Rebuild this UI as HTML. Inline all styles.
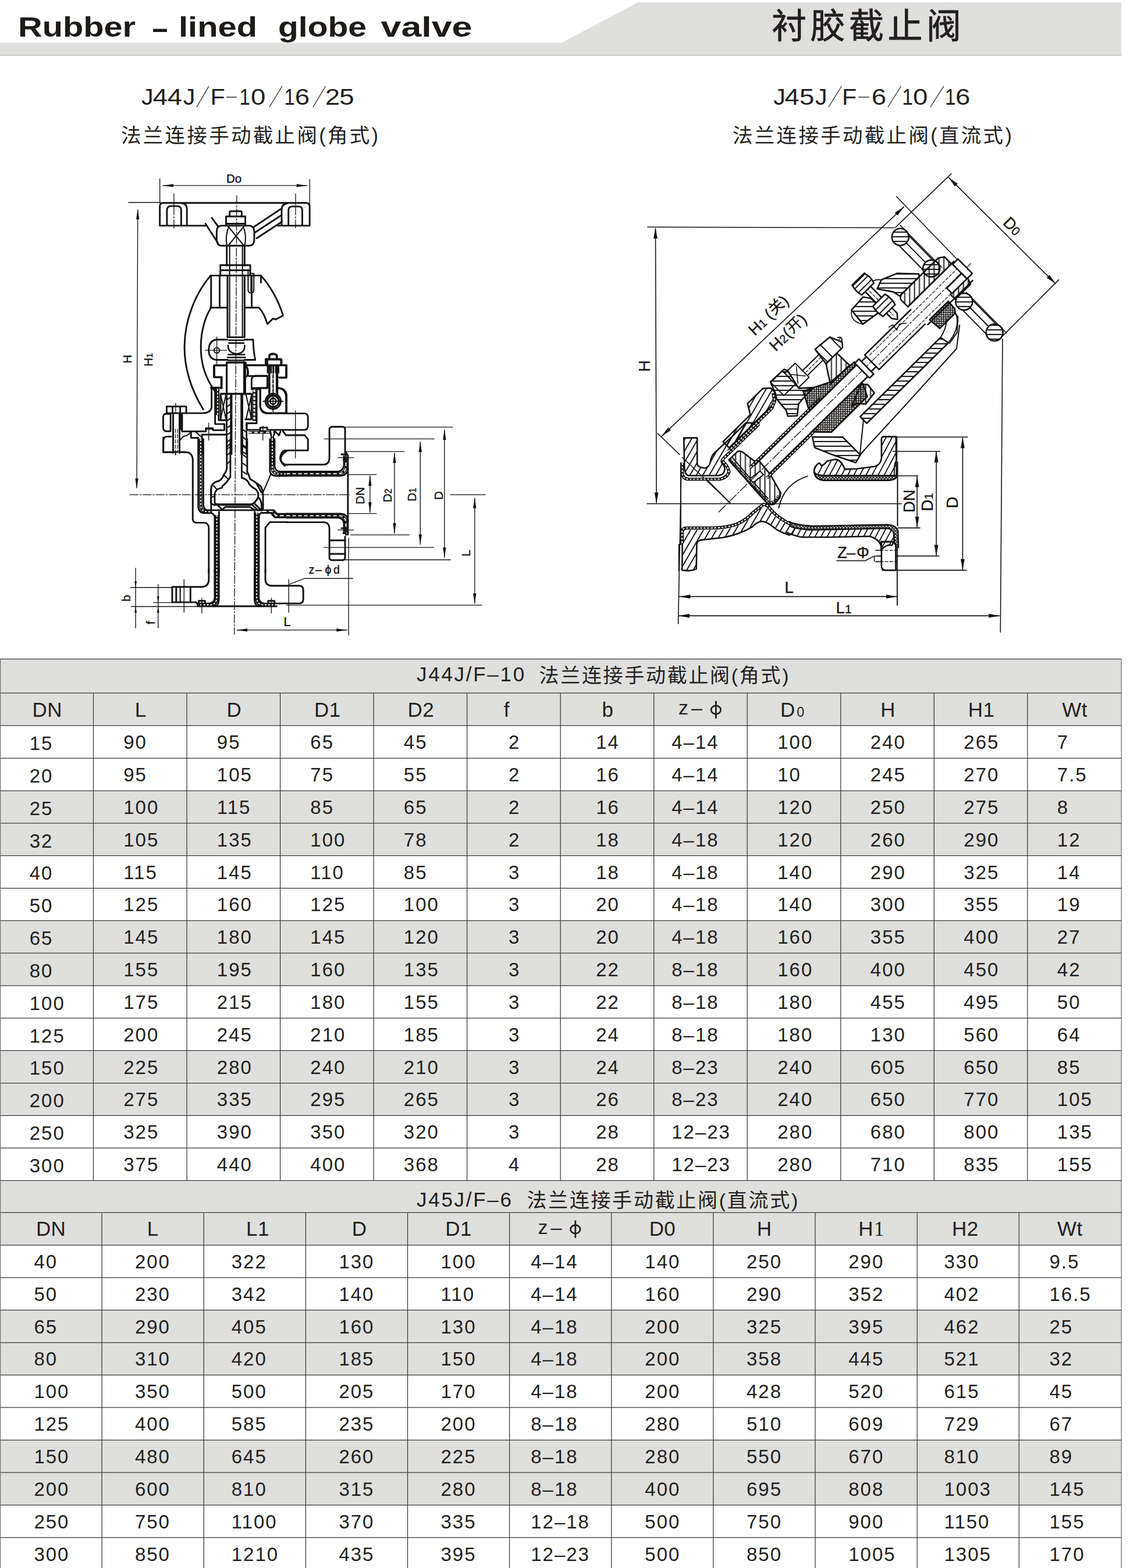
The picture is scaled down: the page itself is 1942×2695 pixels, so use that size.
<!DOCTYPE html>
<html><head><meta charset="utf-8"><title>Rubber-lined globe valve</title>
<style>
html,body{margin:0;padding:0;background:#fff;}
body{width:1942px;height:2695px;position:relative;overflow:hidden;}
svg{position:absolute;left:0;top:0;display:block;}
text{font-family:"Liberation Sans",sans-serif;fill:#231f20;}
.n{font-size:33px;letter-spacing:2px;}
.hd{font-size:35px;letter-spacing:0.4px;}
.sb{font-size:39px;}
.ser{font-family:"Liberation Serif",serif;}
.cj{font-family:"Liberation Sans","Noto Sans CJK SC",sans-serif;}
.ttl{font-family:"Liberation Sans",sans-serif;font-size:48px;font-weight:bold;fill:#1d1a17;}
</style></head><body>

<svg width="1942" height="2695" viewBox="0 0 1942 2695">
<path d="M0,73.4 H965.5 L1096.4,4 H1927 V95.5 H0 Z" fill="#dfdfdd"/>
<path d="M0,95 H1927" stroke="#a9a9a8" stroke-width="1.2" fill="none"/>
<text class="ttl" x="31" y="63.3" textLength="202" lengthAdjust="spacingAndGlyphs">Rubber</text>
<text class="ttl" x="307" y="63.3" textLength="135" lengthAdjust="spacingAndGlyphs">lined</text>
<text class="ttl" x="478" y="63.3" textLength="152" lengthAdjust="spacingAndGlyphs">globe</text>
<text class="ttl" x="654.5" y="63.3" textLength="157" lengthAdjust="spacingAndGlyphs">valve</text>
<path d="M263,52.3 H287" stroke="#1d1a17" stroke-width="5.4" fill="none"/>
<text class="cj" x="1326" y="66" font-size="60" style="letter-spacing:6.5px" stroke="#231f20" stroke-width="0.8">衬胶截止阀</text>
<text class="sb" transform="translate(243.0,180) scale(1.06,1)">J</text>
<text class="sb" transform="translate(262.8,180) scale(1.17,1)">4</text>
<text class="sb" transform="translate(287.8,180) scale(1.17,1)">4</text>
<text class="sb" transform="translate(314.7,180) scale(1.06,1)">J</text>
<text class="sb" transform="translate(361.4,180) scale(1.06,1)">F</text>
<text class="sb" transform="translate(411.5,180) scale(0.85,1)">1</text>
<text class="sb" transform="translate(431.0,180) scale(1.17,1)">0</text>
<text class="sb" transform="translate(488.5,180) scale(0.85,1)">1</text>
<text class="sb" transform="translate(506.7,180) scale(1.17,1)">6</text>
<text class="sb" transform="translate(558.7,180) scale(1.17,1)">2</text>
<text class="sb" transform="translate(583.2,180) scale(1.17,1)">5</text>
<path d="M338,184 L359,148" stroke="#231f20" stroke-width="1.3" fill="none"/>
<path d="M463,184 L485,148" stroke="#231f20" stroke-width="1.3" fill="none"/>
<path d="M538,184 L559.5,148" stroke="#231f20" stroke-width="1.3" fill="none"/>
<path d="M389,167 H407" stroke="#231f20" stroke-width="1.4" fill="none"/>
<text class="cj" x="208" y="245" font-size="34.5" style="letter-spacing:3.3px">法兰连接手动截止阀(角式)</text>
<text class="sb" transform="translate(1329.3,180) scale(1.06,1)">J</text>
<text class="sb" transform="translate(1348.4,180) scale(1.17,1)">4</text>
<text class="sb" transform="translate(1374.0,180) scale(1.17,1)">5</text>
<text class="sb" transform="translate(1400.9,180) scale(1.06,1)">J</text>
<text class="sb" transform="translate(1446.9,180) scale(1.06,1)">F</text>
<text class="sb" transform="translate(1497.7,180) scale(1.17,1)">6</text>
<text class="sb" transform="translate(1550.5,180) scale(0.85,1)">1</text>
<text class="sb" transform="translate(1569.0,180) scale(1.17,1)">0</text>
<text class="sb" transform="translate(1624.0,180) scale(0.85,1)">1</text>
<text class="sb" transform="translate(1641.9,180) scale(1.17,1)">6</text>
<path d="M1424,184 L1446.5,148" stroke="#231f20" stroke-width="1.3" fill="none"/>
<path d="M1526,184 L1548.5,148" stroke="#231f20" stroke-width="1.3" fill="none"/>
<path d="M1599,184 L1622,148" stroke="#231f20" stroke-width="1.3" fill="none"/>
<path d="M1475.3,167 H1493.7" stroke="#231f20" stroke-width="1.4" fill="none"/>
<text class="cj" x="1259" y="245" font-size="34.5" style="letter-spacing:3.3px">法兰连接手动截止阀(直流式)</text>
<g id="leftdraw" fill="none" stroke="#141210" stroke-linecap="round" stroke-linejoin="round">
<style>
.k{stroke-width:2.9px;vector-effect:non-scaling-stroke}
.m{stroke-width:2.1px;vector-effect:non-scaling-stroke}
.f{stroke-width:1.35px;vector-effect:non-scaling-stroke}
.cl{stroke-width:1.3px;vector-effect:non-scaling-stroke;stroke-dasharray:14 3 2.5 3}
.ds{stroke-width:1.2px;vector-effect:non-scaling-stroke;stroke-dasharray:6 3}
.band{stroke-width:5.2px;vector-effect:non-scaling-stroke;stroke-linecap:butt}
.bandw{stroke:#fff;stroke-width:1.9px;vector-effect:non-scaling-stroke;stroke-dasharray:3.2 2.6;stroke-linecap:butt}
.ar{fill:#141210;stroke:none}
.dt{font-family:"Liberation Sans",sans-serif;fill:#141210;stroke:#141210;stroke-width:1.6px}
</style>
<g transform="translate(200,290) scale(0.2448)">
<!-- ===== dimension Do ===== -->
<path class="f" d="M305,70V240M1357,75V250M325,118H1340M85,237H310"/>
<path class="ar" d="M325,118L400,107V129ZM1340,118L1265,107V129Z"/>
<text class="dt" x="772" y="100" font-size="84">Do</text>
<!-- centre lines -->
<path class="cl" d="M404,175V420M1258,175V425"/>
<path class="cl" d="M845,190L828,3268"/>
<!-- H dimension -->
<path class="f" d="M150,290L143,2240"/>
<path class="ar" d="M150,283L139,355H161ZM143,2246L132,2174H154Z"/>
<text class="dt" transform="translate(108,1366) rotate(-90)" font-size="84">H</text>
<text class="dt" transform="translate(254,1388) rotate(-90)" font-size="84">H<tspan font-size="60">1</tspan></text>
<!-- ===== handwheel ===== -->
<path class="k" d="M330,240H1330M305,400V264Q305,240 330,240M305,400H625M495,400V280Q495,244 458,243M355,400V292Q355,262 385,262H425Q455,262 455,292V400"/>
<path class="k" d="M1357,400V265Q1357,240 1330,240M1135,400H1357M1160,400V292Q1160,246 1200,243M1208,400V292Q1208,265 1235,265H1280Q1305,265 1305,292V400"/>
<path class="k" d="M735,400H935Q966,402 968,440V500Q966,538 935,540H735Q706,538 704,500V440Q706,402 735,400Z"/>
<path class="k" d="M770,400V335H905V400M795,335V306Q795,298 805,298H870Q880,298 880,306V335M770,386H905"/>
<path class="m" d="M785,405L895,540M895,405L785,540M790,405Q762,470 776,540M890,405Q918,470 900,540"/>
<path class="k" d="M960,412L1152,284M972,448L1160,326M985,488L1163,372"/>
<path class="k" d="M625,385L712,520M670,345L716,408"/>
<!-- stem upper -->
<path class="k" d="M775,540V680M900,540V680"/>
<path class="m" d="M795,540V1180M885,540V1180"/>
<path class="k" d="M730,750V677H940V750M730,713H940M730,750H940"/>
<!-- yoke top -->
<path class="k" d="M660,750H1015M665,750V975M725,750V975M660,975H780M950,750V975M1015,750V800M900,975H1000"/>
<path class="k" d="M780,750V1180M900,750V1180"/>
<path class="m" d="M925,722V850Q925,872 945,872Q965,872 965,850V735H940M945,760V862"/>
<!-- yoke arms -->
<path class="k" d="M660,752C560,870 480,1050 478,1250C478,1420 530,1560 610,1690"/>
<path class="k" d="M665,975C610,1060 588,1180 594,1290C600,1400 640,1490 690,1560"/>
<path class="k" d="M1015,752C1080,820 1140,930 1170,1030L1120,1058L1100,1052L1060,1090C1045,1040 1025,1000 1000,975"/>
<!-- ball joint -->
<path class="k" d="M780,1183H900M790,1204H895M790,1224H895M785,1240Q780,1292 845,1300Q905,1292 900,1240M785,1305H900M780,1325H905M785,1345H900" style="stroke-width:2.6px"/>
<path class="k" d="M780,1200H700Q650,1208 648,1275Q650,1335 700,1342H780M900,1200H960Q962,1280 975,1342H900"/>
<circle class="m" cx="705" cy="1275" r="19"/>
<path class="f" d="M622,1275H775M705,1180V1370"/>
<!-- gland -->
<path class="k" d="M775,1362H908M775,1362V1580M897,1362V1580M735,1580H950"/>
<path class="k" d="M775,1380H688V1462H740V1540H665"/>
<path class="k" d="M908,1380H1195V1468H1145M1060,1380V1340H1160V1380M1075,1340V1305Q1100,1290 1125,1305V1340M1048,1380V1340"/>
<path class="k" d="M908,1380Q925,1400 922,1440Q910,1460 950,1455H1060V1540H990"/>
<path class="k" d="M1075,1380V1570M1125,1380V1570" />
<path class="m" d="M1100,1385V1560" style="stroke-dasharray:5 3"/>
<!-- eyebolt -->
<circle class="k" cx="1100" cy="1632" r="42"/>
<circle class="m" cx="1100" cy="1632" r="22"/>
<path class="f" d="M1030,1632H1170M1100,1560V1700"/>
<path class="k" d="M1010,1545V1660Q1012,1712 1060,1715H1195V1590Q1190,1545 1140,1540"/>
</g>

<!-- ================= G group : left bonnet ================= -->
<g transform="translate(270,600) scale(0.11016)">
<path class="k" d="M850,620V900Q845,990 720,1000H460"/>
<path class="k" d="M1085,255H885V440H1000V600H840"/>
<path class="k" d="M905,620V1170H1050V1265H870V1235H760V1285H390M960,1030V1110H1090"/>
<path class="band" d="M945,625V1030" style="stroke-width:6px"/><path class="bandw" d="M945,625V1030"/>
<path class="k" d="M990,700H1460M990,700V1100M1085,205V1640M1150,700V1640M1330,700V1640M1395,1150V1640M1085,205H1375V700"/>
<path class="m" d="M990,705L1075,1095M1075,705L990,1095M1165,700V1640M1310,700V1640"/>
<path class="m" d="M1088,790L1148,750M1088,900L1148,860M1088,1010L1148,970M1088,1120L1148,1080M1088,1230L1148,1190M1088,1340L1148,1300M1088,1450L1148,1410M1088,1560L1148,1520M1333,1250L1393,1300M1333,1370L1393,1420M1333,1490L1393,1540M1333,1600L1393,1640"/>
<path class="k" d="M150,1000V895H455V1000M150,1000H455M240,900V1000M360,900V1000"/>
<path class="k" d="M210,1010H130Q95,1020 95,1060V1230Q100,1278 140,1282H210V1010"/>
<path class="k" d="M250,1000V1620M350,1000V1620M390,1010V1285"/>
<path class="k" d="M380,1015V1250" style="stroke-width:4px"/>
<path class="ds" d="M285,1250V1600M318,1250V1600"/>
<path class="k" d="M220,1365H150Q100,1370 95,1440V1610H250M350,1610H480"/>
<path class="m" d="M360,1420Q400,1350 460,1350L530,1300M600,1290L700,1380"/>
<path class="k" d="M530,1290V1385H640M700,1335H1075M700,1335V1640"/>
<path class="band" d="M680,1400V1640"/><path class="bandw" d="M680,1400V1640"/>
<path class="f" d="M290,845V1000M805,1155V1420M760,1250H860"/>
</g>
<!-- ================= E group : right bonnet ================= -->
<g transform="translate(330,580) scale(0.13464)">
<path class="k" d="M685,355H950M1130,355H1200V510H1110M665,320V715M685,320V355M685,370Q722,385 715,470Q705,498 688,500"/>
<path class="k" d="M960,490H810Q760,495 760,540V645H960"/>
<path class="k" d="M940,355V275H1135V355M985,275V232Q1035,195 1085,232V275"/>
<path class="k" d="M985,355V715M1090,355V720"/>
<path class="k" d="M965,360V450M1010,360V450M1040,360V450M1070,360V450M1105,360V450" style="stroke-width:2.6px"/>
<path class="ds" d="M1037,470V700"/>
<circle class="k" cx="1035" cy="815" r="98"/><circle class="m" cx="1035" cy="815" r="68"/><circle class="m" cx="1035" cy="815" r="36"/>
<path class="f" d="M905,815H1165M1035,690V950"/>
<path class="k" d="M870,665V880Q880,965 960,970H1440Q1480,975 1480,1020V1130Q1478,1175 1440,1180H960V1150H870V1180H700V1095M1200,970V750Q1190,655 1100,645"/>
<path class="k" d="M825,660V1095H700M760,735V1045M680,1045H760M760,660H870"/>
<path class="band" d="M795,665V1070" style="stroke-width:6px"/><path class="bandw" d="M795,665V1070" style="stroke-dasharray:4.5 2.2;stroke-width:3.4px"/>
<path class="m" d="M690,735L760,1045M760,735L690,1045"/>
<path class="band" d="M720,1213H1000" style="stroke-width:4.4px"/><path class="bandw" d="M720,1213H1000" style="stroke-dasharray:6 4"/>
<path class="band" d="M1025,1240V1640" style="stroke-width:6px"/><path class="bandw" d="M1025,1240V1640"/>
<path class="k" d="M1000,1200L1010,1250M1050,1200V1240M1060,1200L1110,1250L1130,1200"/>
<path class="k" d="M1160,1195L1200,1248H1440L1480,1300V1442H1180Q1128,1470 1125,1540Q1130,1600 1185,1640"/>
<path class="f" d="M1320,935V1540M905,1130V1310M860,1190H950"/>
</g>

<!-- ================= F group : disc / seat / bore ================= -->
<g transform="translate(270,760) scale(0.13464)">
<path class="k" d="M80,-60V125H355Q455,130 455,230V985Q460,1025 500,1028H600Q660,1035 660,1100V1660"/>
<path class="m" d="M205,-60V120M285,-60V120M235,120V160"/>
<!-- left wall lining -->
<path class="k" d="M525,-40V820Q530,900 600,905H690Q722,912 735,950V1660M590,-40V800Q595,866 645,868H1350M790,890V1660"/>
<path class="bandw" d="M557,-40V810Q562,886 640,887H700" style="stroke:#141210;stroke-width:5px;stroke-dasharray:none"/>
<path class="bandw" d="M557,-40V810Q562,886 640,887H700"/>
<path class="band" d="M762,930V1660" style="stroke-width:6.4px"/><path class="bandw" d="M762,930V1660"/>
<path class="k" d="M1245,890V1660M1300,960V1660"/>
<path class="band" d="M1272,900V1660" style="stroke-width:6.4px"/><path class="bandw" d="M1272,900V1660"/>
<!-- stem tube walls -->
<path class="k" d="M890,-40V330M935,-40V440M1080,-40V455M1150,-40V380"/>
<path class="m" d="M893,60L932,20M893,170L932,130M893,280L932,240M1083,40L1147,90M1083,150L1147,200M1083,260L1147,310M1083,370L1147,410"/>
<!-- disc outer -->
<path class="k" d="M890,330Q882,385 852,412Q836,470 792,494Q700,510 688,590V780L722,800H1200Q1262,770 1292,700"/>
<path class="k" d="M935,440Q900,505 835,560L828,582Q745,595 735,660V770Q740,792 775,792H1205Q1252,780 1288,705Q1302,640 1258,600Q1180,560 1160,505Q1140,470 1080,455"/>
<path class="k" d="M1150,380Q1176,420 1186,470Q1262,510 1320,562Q1350,600 1352,680V865"/>
<path class="m" d="M722,555L760,600M860,425L905,470M705,700L735,690M1260,520L1330,640M1290,560L1345,660"/>
<!-- seat -->
<path class="k" d="M770,800L830,862L872,826H1182L1250,868M1215,800L1290,872M1250,790L1320,860M1292,700Q1350,760 1330,870"/>
<path class="k" d="M690,866V590"/>
<path class="m" d="M1352,640L1452,408"/>
<!-- outlet top lining corner -->
<path class="k" d="M1440,-40V370Q1450,430 1520,432H1660M1500,-40V310Q1510,372 1572,375H1660"/>
<path class="band" d="M1470,-40V340Q1480,402 1550,404H1660"/><path class="bandw" d="M1470,-40V340Q1480,402 1550,404H1660"/>
<!-- outlet bottom lining -->
<path class="k" d="M1300,868H1490L1532,915H1660M1330,902H1452L1502,960H1660M1300,960Q1300,905 1340,900"/>
<path class="band" d="M1345,884H1470L1516,938H1660" style="stroke-width:4.6px"/><path class="bandw" d="M1345,884H1470L1516,938H1660" style="stroke-dasharray:7 4"/>
<path class="k" d="M1660,1020H1440L1382,1090V1660"/>
<path class="k" d="M1660,110Q1570,160 1580,230Q1600,282 1660,292"/>
</g>

<!-- ================= C group : lower body ================= -->
<g transform="translate(200,690) scale(0.2448)">
<path class="cl" d="M95,655H1636"/>
<path class="k" d="M649,1180V1245Q650,1300 600,1302H392V1410H562L576,1436M420,1302V1410M520,1302V1410M570,1438H1125"/>
<path class="m" d="M448,1302V1410"/>
<path class="k" d="M690,1180V1380Q688,1416 650,1418H575M720,1180V1392Q718,1436 690,1438"/>
<path class="band" d="M705,1180V1372Q704,1427 660,1428H580" style="stroke-width:6.4px"/><path class="bandw" d="M705,1180V1372Q704,1427 660,1428H580"/>
<path class="k" d="M970,1180V1392Q972,1436 1000,1438M1000,1180V1378Q1002,1416 1040,1418H1125"/>
<path class="band" d="M985,1180V1372Q986,1427 1030,1428H1120" style="stroke-width:6.4px"/><path class="bandw" d="M985,1180V1372Q986,1427 1030,1428H1120"/>
<path class="k" d="M1046,1180V1250Q1046,1292 1090,1294H1285Q1312,1296 1312,1322V1392Q1310,1416 1285,1418H1125"/>
<path class="f" d="M475,1250V1480M1210,1250V1480M600,1380V1485M1088,1380V1485"/>
<path class="k" d="M578,1418V1400H622V1418M1066,1418V1400H1110V1418"/>
<!-- b / f dims -->
<path class="f" d="M100,1306H395M260,1412H400M105,1440H570M135,1170V1590M293,1285V1590"/>
<path class="ar" d="M135,1306L127,1262H143ZM135,1440L127,1484H143ZM293,1412L285,1368H301ZM293,1440L285,1484H301Z"/>
<text class="dt" transform="translate(98,1405) rotate(-90)" font-size="84">b</text>
<text class="dt" transform="translate(268,1565) rotate(-90)" font-size="84">f</text>
<!-- z-phi d -->
<path class="f" d="M1215,1283L1320,1243H1660"/>
<text class="dt" x="1350" y="1208" font-size="80">z<tspan dx="8">–</tspan><tspan dx="22">ϕ</tspan><tspan dx="14">d</tspan></text>
<!-- L dim -->
<path class="f" d="M845,1605H1620"/>
<path class="ar" d="M845,1605L920,1594V1616ZM1620,1605L1545,1594V1616Z"/>
<text class="dt" x="1175" y="1578" font-size="88">L</text>
</g>
<!-- ================= D group : outlet flange + dims ================= -->
<g transform="translate(500,690) scale(0.2448)">
<path class="k" d="M-47,443H235Q268,440 270,400V195Q272,180 285,178H365Q380,180 380,195V362"/>
<path class="k" d="M-30,848H235Q268,850 270,890V1100Q272,1112 285,1114H365Q380,1112 380,1095V950"/>
<path class="k" d="M275,975H380M275,1070H380"/>
<path class="k" d="M-30,492H330Q366,488 372,450V385M-30,522H350Q396,516 400,470V380L385,355M400,380V935H385"/>
<path class="band" d="M-30,507H340Q382,503 386,460V392" style="stroke-width:4.6px"/><path class="bandw" d="M-30,507H340Q382,503 386,460V392" style="stroke-dasharray:6 4"/>
<path class="k" d="M-30,788H350Q398,792 400,840M-30,816H330Q372,820 372,860V920"/>
<path class="band" d="M-30,802H340Q384,806 386,850V915" style="stroke-width:4.6px"/><path class="bandw" d="M-30,802H340Q384,806 386,850V915" style="stroke-dasharray:6 4"/>
<path class="k" d="M355,372H385V410H368M355,890H385V925H368"/>
<path class="f" d="M330,395H440M330,902H440M405,960V1640"/>
<!-- dims -->
<path class="f" d="M380,180H1135M380,1112H1120M1078,200V1095M235,263H1005M232,1025H1000M908,285V1003M385,352H795M420,937H830M727,362V925M405,513H600M405,787H600M555,522V778M1120,655H1365M-30,1430H1340M1290,680V1418"/>
<path class="ar" d="M1078,195L1067,270H1089ZM1078,1100L1067,1025H1089ZM908,280L897,355H919ZM908,1008L897,933H919ZM727,357L716,432H738ZM727,930L716,855H738ZM555,517L544,592H566ZM555,783L544,708H566ZM1290,675L1279,750H1301ZM1290,1423L1279,1348H1301Z"/>
<text class="dt" transform="translate(515,722) rotate(-90)" font-size="84">DN</text>
<text class="dt" transform="translate(705,708) rotate(-90)" font-size="84">D<tspan font-size="64">2</tspan></text>
<text class="dt" transform="translate(880,702) rotate(-90)" font-size="84">D<tspan font-size="64">1</tspan></text>
<text class="dt" transform="translate(1068,690) rotate(-90)" font-size="84">D</text>
<text class="dt" transform="translate(1258,1088) rotate(-90)" font-size="84">L</text>
</g>
</g>

<g id="rightdraw" fill="none" stroke="#141210" stroke-linecap="round" stroke-linejoin="round">
<defs>
<pattern id="hx" width="5.4" height="5.4" patternUnits="userSpaceOnUse"><path d="M-1,-1L6.4,6.4M6.4,-1L-1,6.4" stroke="#141210" stroke-width="1.55"/></pattern>
<pattern id="hh" width="20" height="8" patternUnits="userSpaceOnUse"><path d="M-1,4H21" stroke="#141210" stroke-width="1.9"/></pattern>
<pattern id="hv" width="8.4" height="20" patternUnits="userSpaceOnUse"><path d="M4.2,-1V21" stroke="#141210" stroke-width="1.9"/></pattern>
<pattern id="hd" width="20" height="9.6" patternUnits="userSpaceOnUse" patternTransform="rotate(-60)"><path d="M-1,4.8H21" stroke="#141210" stroke-width="2"/></pattern>
<pattern id="hd2" width="20" height="9.2" patternUnits="userSpaceOnUse" patternTransform="rotate(-62)"><path d="M-1,4.6H21" stroke="#141210" stroke-width="2"/></pattern>
</defs>
<style>
.rk{stroke-width:2.6px}.rm{stroke-width:2.0px}.rf{stroke-width:1.6px}
.rcl{stroke-width:1.3px;stroke-dasharray:16 3.5 3 3.5}
.rds{stroke-width:1.2px;stroke-dasharray:5 3}
.rar{fill:#141210;stroke:none}
.rt{font-family:"Liberation Sans",sans-serif;fill:#141210;stroke:#141210;stroke-width:0.3px;font-size:27.5px}
</style>
<path class="rf" d="M1113,390.3L1538,391.5M1126.5,393L1128.2,864M1112,865.8H1549M1137.5,749.4L1553.3,355.6M1130.2,744.8L1168,781.3M1172.5,786L1255.4,865M1540.6,337.7L1648,449M1539.4,390.4L1634.8,298.6M1724.2,576.4L1819.6,480.9M1630.6,305.4L1814,487.6M1723,582.5L1719.3,1086.6"/>
<path class="rf" d="M1168,1025.4H1541M1167,1058.4H1717.5M1171,795.3L1165.6,1071.9M1541.8,939.7V1040"/>
<path class="rf" d="M1654.4,752V979.5M1518.5,751.2H1663M1516,980.1H1660.5M1609.1,776.5V955M1534.5,775.7H1615.2M1503.9,955.6H1614M1576.1,819V906M1543,817.8H1577.3M1543,907.4H1581"/>
<path class="rar" d="M1126.5,391.0L1129.9,410.0L1123.1,410.0ZM1128.2,865.5L1124.8,846.5L1131.6,846.5ZM1136.8,750.1L1148.3,734.6L1152.9,739.5ZM1554.0,354.9L1542.5,370.4L1537.9,365.5ZM1629.9,304.7L1645.8,315.7L1641.0,320.5ZM1814.7,488.3L1798.8,477.3L1803.6,472.5ZM1167.3,1025.4L1186.3,1022.0L1186.3,1028.8ZM1541.8,1025.4L1522.8,1028.8L1522.8,1022.0ZM1166.1,1058.4L1185.1,1055.0L1185.1,1061.8ZM1718.2,1058.4L1699.2,1061.8L1699.2,1055.0ZM1654.4,751.2L1657.8,770.2L1651.0,770.2ZM1654.4,980.1L1651.0,961.1L1657.8,961.1ZM1609.1,775.7L1612.5,794.7L1605.7,794.7ZM1609.1,955.6L1605.7,936.6L1612.5,936.6ZM1576.1,818.2L1579.5,837.2L1572.7,837.2ZM1576.1,907.0L1572.7,888.0L1579.5,888.0Z"/>
<text class="rt" transform="translate(1116.5,639) rotate(-90)">H</text>
<text class="rt" x="1348.5" y="1019.3">L</text>
<text class="rt" x="1436.6" y="1053.5">L<tspan font-size="21">1</tspan></text>
<text class="rt" transform="translate(1645.8,873.6) rotate(-90)">D</text>
<text class="rt" transform="translate(1603,878.5) rotate(-90)">D<tspan font-size="21">1</tspan></text>
<text class="rt" transform="translate(1572.4,881) rotate(-90)">DN</text>
<text class="rt" transform="translate(1722.2,384.2) rotate(44.8)">D<tspan font-size="21">0</tspan></text>
<text class="rt" x="1439" y="959.3">Z<tspan dx="-1">–</tspan><tspan dx="2">Φ</tspan></text>
<path class="rf" d="M1437.8,963.7H1486.8L1502.6,955.6V964.5M1505,945.8H1541M1505,965.4H1541M1510,955.6H1545"/>
<g transform="translate(1297,578) rotate(-43.5)"><text class="rt" x="0" y="0">H<tspan font-size="20">1</tspan></text><text class="rt" x="39" y="-1" font-size="30">(</text><text class="rt" x="49" y="-2.5" style="font-family:'Liberation Sans','Noto Sans CJK SC',sans-serif;font-size:26px">关</text><text class="rt" x="75" y="-1" font-size="30">)</text></g>
<g transform="translate(1333,605) rotate(-43.5)"><text class="rt" x="0" y="0">H<tspan font-size="20">2</tspan></text><text class="rt" x="32" y="-1" font-size="30">(</text><text class="rt" x="42" y="-2.5" style="font-family:'Liberation Sans','Noto Sans CJK SC',sans-serif;font-size:26px">开</text><text class="rt" x="68" y="-1" font-size="30">)</text></g>
<path class="rk" fill="url(#hd)" d="M1175.2,752.6L1198.2,752.6L1198.2,797.3Q1199,803.4 1211.2,804.5Q1218.8,803.4 1220.7,794.3Q1221.9,783.5 1229.6,776.7L1257.1,751.4L1281.6,726.9L1304.5,726.9L1240.3,790.4Q1238,794.3 1243.3,798.8Q1247.9,806.5 1243.3,813.4Q1238.7,818 1229.6,817.5L1182.9,817.5Q1176.8,815.7 1176.3,803.4Z"/>
<path d="M1172.6,795.8L1172.6,812.6Q1173.3,823.3 1182.9,823.6L1235.7,823.6Q1249.4,821.8 1252.8,811.1Q1251,801.9 1244.9,795.8Q1240.3,792 1243.3,788.1L1304.5,728.5" stroke-width="5.4" stroke-linecap="butt"/>
<path d="M1172.6,795.8L1172.6,812.6Q1173.3,823.3 1182.9,823.6L1235.7,823.6Q1249.4,821.8 1252.8,811.1Q1251,801.9 1244.9,795.8Q1240.3,792 1243.3,788.1L1304.5,728.5" stroke="#fff" stroke-width="2.0" stroke-dasharray="3.4 2.6" stroke-linecap="butt"/>
<path class="rk" fill="url(#hd)" d="M1172.9,912.8Q1174.5,910.5 1180.6,910.8L1223.4,910.8Q1249.4,910.5 1266.3,904.4Q1284.6,896 1296.9,883L1312.2,870L1319.8,874.6Q1333.6,892.2 1355,902.6L1367.3,905.9L1367.3,921.2L1356.5,919.7Q1338.2,913.6 1329,905.9Q1318.3,896.8 1309.1,896Q1301.5,896.8 1292.3,905.9Q1272.4,918.2 1241.8,924L1205.1,928.1Q1197.7,929.7 1197.4,935.8L1196.7,977.9Q1188.2,982.4 1172.2,980Z" style="stroke:none"/>
<path class="rk" d="M1356.5,919.7Q1338.2,913.6 1329,905.9Q1318.3,896.8 1309.1,896Q1301.5,896.8 1292.3,905.9Q1272.4,918.2 1241.8,924L1205.1,928.1Q1197.7,929.7 1197.4,935.8L1196.7,977.9Q1188.2,982.4 1172.2,980L1172.9,912.8"/>
<path d="M1172.2,933.5L1172.2,913.6Q1172.9,907.5 1180.6,907.5L1223.4,907.5Q1247.9,907.2 1264.7,901.4Q1281.6,894.5 1293.8,881.5L1311.9,866.9Q1319.8,867.7 1322.9,873.8Q1335.1,889.1 1355.8,899.5L1364.2,902.1" stroke-width="5.6" stroke-linecap="butt"/>
<path d="M1172.2,933.5L1172.2,913.6Q1172.9,907.5 1180.6,907.5L1223.4,907.5Q1247.9,907.2 1264.7,901.4Q1281.6,894.5 1293.8,881.5L1311.9,866.9Q1319.8,867.7 1322.9,873.8Q1335.1,889.1 1355.8,899.5L1364.2,902.1" stroke="#fff" stroke-width="2.0" stroke-dasharray="3.4 2.6" stroke-linecap="butt"/>
<path class="rm" d="M1169.9,795.8L1169.9,935M1166.8,935.8L1169.9,935.8M1166.8,935.8L1166.8,980.9"/>
<path class="rk" fill="url(#hv)" d="M1252.5,790.4L1267.8,775.9Q1272.4,774.4 1277,777.4L1296.9,793L1303,790.4L1322.1,813.4L1327.5,821.8L1341.6,847Q1342,852.4 1339.7,855.8L1330.5,866.5Q1324.4,868.5 1318.3,864.6Z"/>
<path d="M1255.6,791.2L1317.5,861.6Q1325.9,867.7 1333.6,860L1339,852.4" stroke="url(#hx)" stroke-width="6.5" stroke-linecap="butt"/>
<path class="rm" d="M1252.5,790.4L1318.3,864.6Q1324.4,868.5 1330.5,866.5L1339.7,855.8M1258.9,786.9L1319.8,857"/>
<path class="rm" fill="#fff" d="M1288.5,823.3L1306.1,809.6L1312.2,815.7L1294.6,829.4Z"/>
<path class="rm" d="M1387.9,818.4Q1347.4,831 1338.2,873.1M1215.8,825.6L1255.6,865.4"/>
<path class="rk" fill="url(#hd2)" d="M1399,810.9Q1399,800.2 1408.1,795.6L1412,800.5L1417.3,797.1L1421.9,792.2L1435.7,789.4Q1446.4,791 1451.7,806.6L1472.4,805.7L1503,801.7Q1512.9,799.4 1514.9,787.9L1514.9,754.3Q1515.2,750.6 1518.6,750.4L1539.7,750.4L1540.8,817.3L1414.3,817.3Q1402,817 1399,810.9Z"/>
<path class="rk" fill="url(#hx)" d="M1399.3,812.4Q1402,824.6 1415.8,825.6L1527.5,825.6Q1541.2,824.6 1541.2,817.3L1414.3,817.3Q1402,817 1399.3,812.4Z"/>
<path class="rk" fill="url(#hd2)" d="M1359.2,905Q1365.3,909.1 1395.9,910.8L1524.4,908Q1533.6,908.8 1535.9,916.4L1537.4,940.9L1514.5,940.9Q1513.7,928.7 1495.3,921.8L1426.5,923.3L1377.5,923.3Q1365.3,921 1354.6,916.4Z" style="stroke:none"/>
<path class="rk" fill="#fff" d="M1359.2,898.4Q1366.8,902.4 1395.9,904.2L1525.9,901.9Q1539.7,903.4 1543.1,911.8L1544,940.9L1537.4,940.9L1535.9,916.4Q1533.6,908.8 1524.4,908L1395.9,910.8Q1365.3,909.1 1359.2,905Z" style="stroke:none"/>
<path class="rk" fill="url(#hx)" d="M1359.2,898.4Q1366.8,902.4 1395.9,904.2L1525.9,901.9Q1539.7,903.4 1543.1,911.8L1544,940.9L1537.4,940.9L1535.9,916.4Q1533.6,908.8 1524.4,908L1395.9,910.8Q1365.3,909.1 1359.2,905Z" style="stroke:none"/>
<path class="rk" d="M1356.1,896.5Q1366.8,902.4 1395.9,904.2L1525.9,901.9Q1539.7,903.4 1543.1,911.8L1544,940.9M1357.6,903.9Q1365.3,909.1 1395.9,910.8L1524.4,908Q1533.6,908.8 1535.9,916.4L1537.4,940.9M1351.5,914.9Q1365.3,921 1377.5,923.3L1426.5,923.3L1495.3,921.8Q1513.7,928.7 1514.5,940.9"/>
<path class="rm" d="M1541.2,750.4L1541.2,791Q1535.9,794 1537,817M1542.5,794L1542.5,903.4"/>
<path class="rk" fill="#fff" d="M1514.9,931.1L1514.9,974Q1515.6,979.6 1521,980.1L1539.4,980.1L1539.4,937.2L1535.7,931.1Z"/>
<path class="rk" fill="url(#hd2)" d="M1514.1,945.8L1514.1,931.1L1535.7,931.1L1533.2,937.2Q1523.4,934.8 1514.1,945.8Z"/>
<path class="rf" d="M1541.8,939.7L1541.8,1040.1"/>
<path class="rds" d="M1505.1,945.8L1540.6,945.8M1505.1,965.4L1540.6,965.4"/>
<defs>
<pattern id="rhh" width="20" height="8" patternUnits="userSpaceOnUse" patternTransform="rotate(44.6)"><path d="M-1,4H21" stroke="#141210" stroke-width="1.9"/></pattern>
<pattern id="rhv" width="8.4" height="20" patternUnits="userSpaceOnUse" patternTransform="rotate(44.6)"><path d="M4.2,-1V21" stroke="#141210" stroke-width="1.9"/></pattern>
<pattern id="rhx" width="5.4" height="5.4" patternUnits="userSpaceOnUse" patternTransform="rotate(0)"><path d="M-1,-1L6.4,6.4M6.4,-1L-1,6.4" stroke="#141210" stroke-width="1.6"/></pattern>
<pattern id="rhd" width="20" height="9.6" patternUnits="userSpaceOnUse" patternTransform="rotate(-15.4)"><path d="M-1,4.8H21" stroke="#141210" stroke-width="2"/></pattern>
</defs>
<g transform="translate(1256.7,858.9) rotate(-44.6)">
<path class="rcl" d="M-30,0H578"/>
<path class="rk" fill="url(#rhd)" d="M60,-66H158L168,-66L183,-78V-89L173,-98H136L126,-81H60Z"/>
<path d="M55,-63H160L172,-68L180,-80" stroke-width="5.4" stroke-linecap="butt"/>
<path d="M55,-63H160L172,-68L180,-80" stroke="#fff" stroke-width="2.0" stroke-dasharray="3.4 2.6" stroke-linecap="butt"/>
<path class="rk" fill="url(#rhh)" d="M190,-97L222,-96L225,-90L217,-55L236,-38L207,-37L198,-36L182,-23L170,-34L175,-43L177,-68L183,-78Z"/>
<path class="rk" fill="url(#rhh)" d="M175,21L212,58L212,101L197,105L179,69L165,37Z"/>
<path d="M62,-16.5H232" stroke-width="5.2" stroke-linecap="butt"/>
<path d="M62,-16.5H232" stroke="#fff" stroke-width="1.8" stroke-dasharray="3.4 2.6" stroke-linecap="butt"/>
<path d="M70,16.5H190" stroke-width="5.2" stroke-linecap="butt"/>
<path d="M70,16.5H190" stroke="#fff" stroke-width="1.8" stroke-dasharray="3.4 2.6" stroke-linecap="butt"/>
<path class="rk" fill="url(#rhx)" d="M205,-19L219,-46L236,-38L264,-24L317,-20V-14H205Z"/>
<path class="rk" fill="url(#rhx)" d="M182,14H300L301,17L291,38H204L186,20Z"/>
<path class="rk" fill="url(#rhv)" d="M298,15L306,24L304,42L280,45L270,34L260,31Z"/>
<path class="rk" d="M70,-14H316M78,14H316"/>
<path class="rk" fill="url(#rhv)" d="M280,-52L306,-53L307,-22L261,-22Z"/>
<path class="rm" d="M243,-60H326M243,-72H320"/>
<path class="rds" d="M245,-66H330"/>
<path class="rk" fill="#fff" d="M284,-83L317,-80L326,-59L320,-52H280Z"/>
<path class="rm" d="M284,-83V-52M296,-83V-52M317,-80V-52M326,-70Q334,-66 326,-60"/>
<path class="rm" d="M190,-96V-64H218V-96Z M218,-90H243V-56H218"/>
<path class="rf" d="M222,-84L240,-62M240,-84L222,-62"/>
<path class="rk" fill="#fff" d="M316,-18H326V18H316Z"/>
<path class="rk" d="M326,-12H338M326,12H338"/>
<path class="rk" d="M338,-16H449M338,19H449M338,-16V19"/>
<path class="rds" d="M344,-10H560M344,13H560"/>
<path class="rk" fill="url(#rhh)" d="M258,54H452L455,70H258Z"/>
<path class="rm" d="M452,54Q470,50 480,40M455,70Q490,66 500,42"/>
<path class="rm" d="M258,54V70M258,62L212,100"/>
<path class="rm" d="M215,100L335,94L458,87L490,62"/>
<path class="rm" d="M212,101L222,100"/>
<path class="rk" fill="url(#rhh)" d="M376,-87L406,-89L414,-78V-50L373,-56Z"/>
<path class="rk" fill="url(#rhh)" d="M433,-82L449,-88L476,-77L502,-50L499,-46H452L449,-59Z"/>
<path class="rf" d="M376,-87Q360,-75 373,-56M430,-95Q440,-100 449,-88"/>
<path class="rk" fill="#fff" d="M415,-108V-28L421,-20L428,-28V-108Z"/>
<path class="rds" d="M421,-104V-30"/>
<path class="rk" fill="#fff" d="M407,-116H436Q440,-105 436,-93H407Q403,-105 407,-116Z"/>
<path class="rm" d="M407,-109H436M407,-100H436"/>
<path class=" " d="M407,-116H436" style="stroke-width:4px"/>
<path class="rk" fill="#fff" d="M407,-66H436Q440,-54 436,-41H407Q403,-54 407,-66Z"/>
<path class="rm" d="M407,-58H436M407,-49H436"/>
<path class="rf" d="M401,-21L409,-19L407,-8L418,-12L427,-5"/>
<path class="rk" fill="url(#rhv)" d="M449,-23V-40Q452,-47 460,-46H545L554,-40V-23Z"/>
<path class="rk" fill="url(#rhv)" d="M516,13H557L553,25H516Z"/>
<path class="rk" d="M449,-23H560M452,23H560"/>
<path class="rk" fill="url(#rhx)" d="M460,19H505L504,36L499,42H462Z"/>
<path class="rm" d="M460,19H505L504,36L499,42H462Z"/>
<path class="rm" d="M499,42L498,50L478,68L456,72"/>
<path class="rk" fill="#fff" d="M555,-21H568V14H555Z"/>
<path class="rk" fill="#fff" d="M519,1H555V14H519Z"/>
<ellipse class="rk" cx="524" cy="-117.5" rx="14.5" ry="14.5" fill="url(#rhh)"/>
<ellipse class="rk" cx="524" cy="-41.5" rx="14.5" ry="14.5" fill="url(#rhh)"/>
<ellipse class="rk" cx="524" cy="38.5" rx="14.5" ry="14.5" fill="url(#rhh)"/>
<ellipse class="rk" cx="524" cy="113" rx="14.5" ry="14.5" fill="url(#rhh)"/>
<path class="rm" d="M536,-110V-50M524,-103V-56M512,-110V-50"/>
<path class="rm" d="M536,46V106M524,53V99M512,46V106"/>
<path class="rf" d="M538,-132V-30M538,30V128"/>
</g>
</g>
<rect x="0.0" y="1132.6" width="1926.4" height="114.6" fill="#dfdfdd"/>
<rect x="0.0" y="1359.0" width="1926.4" height="111.7" fill="#dfdfdd"/>
<rect x="0.0" y="1582.3" width="1926.4" height="111.7" fill="#dfdfdd"/>
<rect x="0.0" y="1805.7" width="1926.4" height="111.7" fill="#dfdfdd"/>
<rect x="0.0" y="2029.1" width="1926.4" height="110.9" fill="#dfdfdd"/>
<rect x="0.0" y="2251.7" width="1926.4" height="111.7" fill="#dfdfdd"/>
<rect x="0.0" y="2475.1" width="1926.4" height="111.7" fill="#dfdfdd"/>
<path d="M0,1132.6H1927M0,1191.2H1927M0,1247.2H1927M0,1303.1H1927M0,1359.0H1927M0,1414.8H1927M0,1470.7H1927M0,1526.5H1927M0,1582.3H1927M0,1638.2H1927M0,1694.0H1927M0,1749.9H1927M0,1805.7H1927M0,1861.5H1927M0,1917.4H1927M0,1973.2H1927M0,2029.1H1927M160.5,1191.2V2029.1M321.1,1191.2V2029.1M481.6,1191.2V2029.1M642.1,1191.2V2029.1M802.6,1191.2V2029.1M963.2,1191.2V2029.1M1123.7,1191.2V2029.1M1284.2,1191.2V2029.1M1444.8,1191.2V2029.1M1605.3,1191.2V2029.1M1765.8,1191.2V2029.1M0,2084.2H1927M0,2140.0H1927M0,2195.8H1927M0,2251.7H1927M0,2307.6H1927M0,2363.4H1927M0,2419.2H1927M0,2475.1H1927M0,2530.9H1927M0,2586.8H1927M0,2642.7H1927M175.1,2084.2V2695M350.3,2084.2V2695M525.4,2084.2V2695M700.5,2084.2V2695M875.6,2084.2V2695M1050.8,2084.2V2695M1225.9,2084.2V2695M1401.0,2084.2V2695M1576.2,2084.2V2695M1751.3,2084.2V2695" stroke="#3b3938" stroke-width="1.25" fill="none"/>
<path d="M0.5,1132.6V2695M1927.2,1132.6V2695" stroke="#6f6e6b" stroke-width="1.3" fill="none"/>
<text class="n" x="50.7" y="1288.9">15</text>
<text class="n" x="212.2" y="1287.1">90</text>
<text class="n" x="372.8" y="1287.1">95</text>
<text class="n" x="533.3" y="1287.1">65</text>
<text class="n" x="693.8" y="1287.1">45</text>
<text class="n" x="874.1" y="1287.1">2</text>
<text class="n" x="1024.2" y="1287.1">14</text>
<text class="n" x="1154.2" y="1287.1">4–14</text>
<text class="n" x="1336.2" y="1287.1">100</text>
<text class="n" x="1495.8" y="1287.1">240</text>
<text class="n" x="1656.3" y="1287.1">265</text>
<text class="n" x="1816.8" y="1287.1">7</text>
<text class="n" x="50.7" y="1344.8">20</text>
<text class="n" x="212.2" y="1343.0">95</text>
<text class="n" x="372.8" y="1343.0">105</text>
<text class="n" x="533.3" y="1343.0">75</text>
<text class="n" x="693.8" y="1343.0">55</text>
<text class="n" x="874.1" y="1343.0">2</text>
<text class="n" x="1024.2" y="1343.0">16</text>
<text class="n" x="1154.2" y="1343.0">4–14</text>
<text class="n" x="1336.2" y="1343.0">10</text>
<text class="n" x="1495.8" y="1343.0">245</text>
<text class="n" x="1656.3" y="1343.0">270</text>
<text class="n" x="1816.8" y="1343.0">7.5</text>
<text class="n" x="50.7" y="1400.6">25</text>
<text class="n" x="212.2" y="1398.8">100</text>
<text class="n" x="372.8" y="1398.8">115</text>
<text class="n" x="533.3" y="1398.8">85</text>
<text class="n" x="693.8" y="1398.8">65</text>
<text class="n" x="874.1" y="1398.8">2</text>
<text class="n" x="1024.2" y="1398.8">16</text>
<text class="n" x="1154.2" y="1398.8">4–14</text>
<text class="n" x="1336.2" y="1398.8">120</text>
<text class="n" x="1495.8" y="1398.8">250</text>
<text class="n" x="1656.3" y="1398.8">275</text>
<text class="n" x="1816.8" y="1398.8">8</text>
<text class="n" x="50.7" y="1456.5">32</text>
<text class="n" x="212.2" y="1454.7">105</text>
<text class="n" x="372.8" y="1454.7">135</text>
<text class="n" x="533.3" y="1454.7">100</text>
<text class="n" x="693.8" y="1454.7">78</text>
<text class="n" x="874.1" y="1454.7">2</text>
<text class="n" x="1024.2" y="1454.7">18</text>
<text class="n" x="1154.2" y="1454.7">4–18</text>
<text class="n" x="1336.2" y="1454.7">120</text>
<text class="n" x="1495.8" y="1454.7">260</text>
<text class="n" x="1656.3" y="1454.7">290</text>
<text class="n" x="1816.8" y="1454.7">12</text>
<text class="n" x="50.7" y="1512.3">40</text>
<text class="n" x="212.2" y="1510.5">115</text>
<text class="n" x="372.8" y="1510.5">145</text>
<text class="n" x="533.3" y="1510.5">110</text>
<text class="n" x="693.8" y="1510.5">85</text>
<text class="n" x="874.1" y="1510.5">3</text>
<text class="n" x="1024.2" y="1510.5">18</text>
<text class="n" x="1154.2" y="1510.5">4–18</text>
<text class="n" x="1336.2" y="1510.5">140</text>
<text class="n" x="1495.8" y="1510.5">290</text>
<text class="n" x="1656.3" y="1510.5">325</text>
<text class="n" x="1816.8" y="1510.5">14</text>
<text class="n" x="50.7" y="1568.1">50</text>
<text class="n" x="212.2" y="1566.3">125</text>
<text class="n" x="372.8" y="1566.3">160</text>
<text class="n" x="533.3" y="1566.3">125</text>
<text class="n" x="693.8" y="1566.3">100</text>
<text class="n" x="874.1" y="1566.3">3</text>
<text class="n" x="1024.2" y="1566.3">20</text>
<text class="n" x="1154.2" y="1566.3">4–18</text>
<text class="n" x="1336.2" y="1566.3">140</text>
<text class="n" x="1495.8" y="1566.3">300</text>
<text class="n" x="1656.3" y="1566.3">355</text>
<text class="n" x="1816.8" y="1566.3">19</text>
<text class="n" x="50.7" y="1624.0">65</text>
<text class="n" x="212.2" y="1622.2">145</text>
<text class="n" x="372.8" y="1622.2">180</text>
<text class="n" x="533.3" y="1622.2">145</text>
<text class="n" x="693.8" y="1622.2">120</text>
<text class="n" x="874.1" y="1622.2">3</text>
<text class="n" x="1024.2" y="1622.2">20</text>
<text class="n" x="1154.2" y="1622.2">4–18</text>
<text class="n" x="1336.2" y="1622.2">160</text>
<text class="n" x="1495.8" y="1622.2">355</text>
<text class="n" x="1656.3" y="1622.2">400</text>
<text class="n" x="1816.8" y="1622.2">27</text>
<text class="n" x="50.7" y="1679.8">80</text>
<text class="n" x="212.2" y="1678.0">155</text>
<text class="n" x="372.8" y="1678.0">195</text>
<text class="n" x="533.3" y="1678.0">160</text>
<text class="n" x="693.8" y="1678.0">135</text>
<text class="n" x="874.1" y="1678.0">3</text>
<text class="n" x="1024.2" y="1678.0">22</text>
<text class="n" x="1154.2" y="1678.0">8–18</text>
<text class="n" x="1336.2" y="1678.0">160</text>
<text class="n" x="1495.8" y="1678.0">400</text>
<text class="n" x="1656.3" y="1678.0">450</text>
<text class="n" x="1816.8" y="1678.0">42</text>
<text class="n" x="50.7" y="1735.7">100</text>
<text class="n" x="212.2" y="1733.9">175</text>
<text class="n" x="372.8" y="1733.9">215</text>
<text class="n" x="533.3" y="1733.9">180</text>
<text class="n" x="693.8" y="1733.9">155</text>
<text class="n" x="874.1" y="1733.9">3</text>
<text class="n" x="1024.2" y="1733.9">22</text>
<text class="n" x="1154.2" y="1733.9">8–18</text>
<text class="n" x="1336.2" y="1733.9">180</text>
<text class="n" x="1495.8" y="1733.9">455</text>
<text class="n" x="1656.3" y="1733.9">495</text>
<text class="n" x="1816.8" y="1733.9">50</text>
<text class="n" x="50.7" y="1791.5">125</text>
<text class="n" x="212.2" y="1789.7">200</text>
<text class="n" x="372.8" y="1789.7">245</text>
<text class="n" x="533.3" y="1789.7">210</text>
<text class="n" x="693.8" y="1789.7">185</text>
<text class="n" x="874.1" y="1789.7">3</text>
<text class="n" x="1024.2" y="1789.7">24</text>
<text class="n" x="1154.2" y="1789.7">8–18</text>
<text class="n" x="1336.2" y="1789.7">180</text>
<text class="n" x="1495.8" y="1789.7">130</text>
<text class="n" x="1656.3" y="1789.7">560</text>
<text class="n" x="1816.8" y="1789.7">64</text>
<text class="n" x="50.7" y="1847.3">150</text>
<text class="n" x="212.2" y="1845.5">225</text>
<text class="n" x="372.8" y="1845.5">280</text>
<text class="n" x="533.3" y="1845.5">240</text>
<text class="n" x="693.8" y="1845.5">210</text>
<text class="n" x="874.1" y="1845.5">3</text>
<text class="n" x="1024.2" y="1845.5">24</text>
<text class="n" x="1154.2" y="1845.5">8–23</text>
<text class="n" x="1336.2" y="1845.5">240</text>
<text class="n" x="1495.8" y="1845.5">605</text>
<text class="n" x="1656.3" y="1845.5">650</text>
<text class="n" x="1816.8" y="1845.5">85</text>
<text class="n" x="50.7" y="1903.2">200</text>
<text class="n" x="212.2" y="1901.4">275</text>
<text class="n" x="372.8" y="1901.4">335</text>
<text class="n" x="533.3" y="1901.4">295</text>
<text class="n" x="693.8" y="1901.4">265</text>
<text class="n" x="874.1" y="1901.4">3</text>
<text class="n" x="1024.2" y="1901.4">26</text>
<text class="n" x="1154.2" y="1901.4">8–23</text>
<text class="n" x="1336.2" y="1901.4">240</text>
<text class="n" x="1495.8" y="1901.4">650</text>
<text class="n" x="1656.3" y="1901.4">770</text>
<text class="n" x="1816.8" y="1901.4">105</text>
<text class="n" x="50.7" y="1959.0">250</text>
<text class="n" x="212.2" y="1957.2">325</text>
<text class="n" x="372.8" y="1957.2">390</text>
<text class="n" x="533.3" y="1957.2">350</text>
<text class="n" x="693.8" y="1957.2">320</text>
<text class="n" x="874.1" y="1957.2">3</text>
<text class="n" x="1024.2" y="1957.2">28</text>
<text class="n" x="1154.2" y="1957.2">12–23</text>
<text class="n" x="1336.2" y="1957.2">280</text>
<text class="n" x="1495.8" y="1957.2">680</text>
<text class="n" x="1656.3" y="1957.2">800</text>
<text class="n" x="1816.8" y="1957.2">135</text>
<text class="n" x="50.7" y="2014.9">300</text>
<text class="n" x="212.2" y="2013.1">375</text>
<text class="n" x="372.8" y="2013.1">440</text>
<text class="n" x="533.3" y="2013.1">400</text>
<text class="n" x="693.8" y="2013.1">368</text>
<text class="n" x="874.1" y="2013.1">4</text>
<text class="n" x="1024.2" y="2013.1">28</text>
<text class="n" x="1154.2" y="2013.1">12–23</text>
<text class="n" x="1336.2" y="2013.1">280</text>
<text class="n" x="1495.8" y="2013.1">710</text>
<text class="n" x="1656.3" y="2013.1">835</text>
<text class="n" x="1816.8" y="2013.1">155</text>
<text class="hd" text-anchor="middle" x="81.2" y="1231.6">DN</text>
<text class="hd" text-anchor="middle" x="241.7" y="1231.6">L</text>
<text class="hd" text-anchor="middle" x="402.3" y="1231.6">D</text>
<text class="hd" text-anchor="middle" x="562.8" y="1231.6">D1</text>
<text class="hd" text-anchor="middle" x="723.3" y="1231.6">D2</text>
<text class="hd" text-anchor="middle" x="870.9" y="1231.6">f</text>
<text class="hd" text-anchor="middle" x="1044.4" y="1231.6">b</text>
<text class="hd" x="1166.0" y="1228.3" style="font-size:34px;letter-spacing:5px">z–</text>
<ellipse cx="1230.4" cy="1220.1" rx="8.3" ry="7.2" fill="none" stroke="#231f20" stroke-width="2.7"/><path d="M1230.4,1204.8V1234.9" stroke="#231f20" stroke-width="2.8" fill="none"/>
<text class="hd" x="1341.1" y="1231.6">D<tspan font-size="23.5" dx="2.5">0</tspan></text>
<text class="hd" text-anchor="middle" x="1526.0" y="1231.6">H</text>
<text class="hd" text-anchor="middle" x="1686.5" y="1231.6">H1</text>
<text class="hd" text-anchor="middle" x="1847.0" y="1231.6">Wt</text>
<text class="n" x="58.4" y="2179.8">40</text>
<text class="n" x="231.9" y="2179.8">200</text>
<text class="n" x="397.7" y="2179.8">322</text>
<text class="n" x="582.4" y="2179.8">130</text>
<text class="n" x="757.5" y="2179.8">100</text>
<text class="n" x="912.2" y="2179.8">4–14</text>
<text class="n" x="1108.3" y="2179.8">140</text>
<text class="n" x="1283.0" y="2179.8">250</text>
<text class="n" x="1458.2" y="2179.8">290</text>
<text class="n" x="1622.5" y="2179.8">330</text>
<text class="n" x="1803.5" y="2179.8">9.5</text>
<text class="n" x="58.4" y="2235.7">50</text>
<text class="n" x="231.9" y="2235.7">230</text>
<text class="n" x="397.7" y="2235.7">342</text>
<text class="n" x="582.4" y="2235.7">140</text>
<text class="n" x="757.5" y="2235.7">110</text>
<text class="n" x="912.2" y="2235.7">4–14</text>
<text class="n" x="1108.3" y="2235.7">160</text>
<text class="n" x="1283.0" y="2235.7">290</text>
<text class="n" x="1458.2" y="2235.7">352</text>
<text class="n" x="1622.5" y="2235.7">402</text>
<text class="n" x="1803.5" y="2235.7">16.5</text>
<text class="n" x="58.4" y="2291.6">65</text>
<text class="n" x="231.9" y="2291.6">290</text>
<text class="n" x="397.7" y="2291.6">405</text>
<text class="n" x="582.4" y="2291.6">160</text>
<text class="n" x="757.5" y="2291.6">130</text>
<text class="n" x="912.2" y="2291.6">4–18</text>
<text class="n" x="1108.3" y="2291.6">200</text>
<text class="n" x="1283.0" y="2291.6">325</text>
<text class="n" x="1458.2" y="2291.6">395</text>
<text class="n" x="1622.5" y="2291.6">462</text>
<text class="n" x="1803.5" y="2291.6">25</text>
<text class="n" x="58.4" y="2347.4">80</text>
<text class="n" x="231.9" y="2347.4">310</text>
<text class="n" x="397.7" y="2347.4">420</text>
<text class="n" x="582.4" y="2347.4">185</text>
<text class="n" x="757.5" y="2347.4">150</text>
<text class="n" x="912.2" y="2347.4">4–18</text>
<text class="n" x="1108.3" y="2347.4">200</text>
<text class="n" x="1283.0" y="2347.4">358</text>
<text class="n" x="1458.2" y="2347.4">445</text>
<text class="n" x="1622.5" y="2347.4">521</text>
<text class="n" x="1803.5" y="2347.4">32</text>
<text class="n" x="58.4" y="2403.2">100</text>
<text class="n" x="231.9" y="2403.2">350</text>
<text class="n" x="397.7" y="2403.2">500</text>
<text class="n" x="582.4" y="2403.2">205</text>
<text class="n" x="757.5" y="2403.2">170</text>
<text class="n" x="912.2" y="2403.2">4–18</text>
<text class="n" x="1108.3" y="2403.2">200</text>
<text class="n" x="1283.0" y="2403.2">428</text>
<text class="n" x="1458.2" y="2403.2">520</text>
<text class="n" x="1622.5" y="2403.2">615</text>
<text class="n" x="1803.5" y="2403.2">45</text>
<text class="n" x="58.4" y="2459.1">125</text>
<text class="n" x="231.9" y="2459.1">400</text>
<text class="n" x="397.7" y="2459.1">585</text>
<text class="n" x="582.4" y="2459.1">235</text>
<text class="n" x="757.5" y="2459.1">200</text>
<text class="n" x="912.2" y="2459.1">8–18</text>
<text class="n" x="1108.3" y="2459.1">280</text>
<text class="n" x="1283.0" y="2459.1">510</text>
<text class="n" x="1458.2" y="2459.1">609</text>
<text class="n" x="1622.5" y="2459.1">729</text>
<text class="n" x="1803.5" y="2459.1">67</text>
<text class="n" x="58.4" y="2514.9">150</text>
<text class="n" x="231.9" y="2514.9">480</text>
<text class="n" x="397.7" y="2514.9">645</text>
<text class="n" x="582.4" y="2514.9">260</text>
<text class="n" x="757.5" y="2514.9">225</text>
<text class="n" x="912.2" y="2514.9">8–18</text>
<text class="n" x="1108.3" y="2514.9">280</text>
<text class="n" x="1283.0" y="2514.9">550</text>
<text class="n" x="1458.2" y="2514.9">670</text>
<text class="n" x="1622.5" y="2514.9">810</text>
<text class="n" x="1803.5" y="2514.9">89</text>
<text class="n" x="58.4" y="2570.8">200</text>
<text class="n" x="231.9" y="2570.8">600</text>
<text class="n" x="397.7" y="2570.8">810</text>
<text class="n" x="582.4" y="2570.8">315</text>
<text class="n" x="757.5" y="2570.8">280</text>
<text class="n" x="912.2" y="2570.8">8–18</text>
<text class="n" x="1108.3" y="2570.8">400</text>
<text class="n" x="1283.0" y="2570.8">695</text>
<text class="n" x="1458.2" y="2570.8">808</text>
<text class="n" x="1622.5" y="2570.8">1003</text>
<text class="n" x="1803.5" y="2570.8">145</text>
<text class="n" x="58.4" y="2626.7">250</text>
<text class="n" x="231.9" y="2626.7">750</text>
<text class="n" x="397.7" y="2626.7">1100</text>
<text class="n" x="582.4" y="2626.7">370</text>
<text class="n" x="757.5" y="2626.7">335</text>
<text class="n" x="912.2" y="2626.7">12–18</text>
<text class="n" x="1108.3" y="2626.7">500</text>
<text class="n" x="1283.0" y="2626.7">750</text>
<text class="n" x="1458.2" y="2626.7">900</text>
<text class="n" x="1622.5" y="2626.7">1150</text>
<text class="n" x="1803.5" y="2626.7">155</text>
<text class="n" x="58.4" y="2682.5">300</text>
<text class="n" x="231.9" y="2682.5">850</text>
<text class="n" x="397.7" y="2682.5">1210</text>
<text class="n" x="582.4" y="2682.5">435</text>
<text class="n" x="757.5" y="2682.5">395</text>
<text class="n" x="912.2" y="2682.5">12–23</text>
<text class="n" x="1108.3" y="2682.5">500</text>
<text class="n" x="1283.0" y="2682.5">850</text>
<text class="n" x="1458.2" y="2682.5">1005</text>
<text class="n" x="1622.5" y="2682.5">1305</text>
<text class="n" x="1803.5" y="2682.5">170</text>
<text class="hd" text-anchor="middle" x="87.6" y="2124.4">DN</text>
<text class="hd" text-anchor="middle" x="262.7" y="2124.4">L</text>
<text class="hd" text-anchor="middle" x="442.9" y="2124.4">L1</text>
<text class="hd" text-anchor="middle" x="617.5" y="2124.4">D</text>
<text class="hd" text-anchor="middle" x="788.1" y="2124.4">D1</text>
<text class="hd" x="924.4" y="2121.1" style="font-size:34px;letter-spacing:5px">z–</text>
<ellipse cx="988.8" cy="2112.9" rx="8.3" ry="7.2" fill="none" stroke="#231f20" stroke-width="2.7"/><path d="M988.8,2097.6V2127.7" stroke="#231f20" stroke-width="2.8" fill="none"/>
<text class="hd" text-anchor="middle" x="1138.4" y="2124.4">D0</text>
<text class="hd" text-anchor="middle" x="1313.5" y="2124.4">H</text>
<text class="hd" text-anchor="middle" x="1497.6" y="2124.4">H<tspan class="ser" dx="1">1</tspan></text>
<text class="hd" text-anchor="middle" x="1658.8" y="2124.4">H2</text>
<text class="hd" text-anchor="middle" x="1838.9" y="2124.4">Wt</text>
<text class="hd" style="letter-spacing:2.7px" x="716.1" y="1171.3">J44J/F–10</text>
<text class="cj" x="926.5" y="1172.5" font-size="34" style="letter-spacing:2.7px">法兰连接手动截止阀(角式)</text>
<text class="hd" style="letter-spacing:2.7px" x="716.1" y="2073.7">J45J/F–6</text>
<text class="cj" x="905.5" y="2075.3" font-size="34" style="letter-spacing:2.7px">法兰连接手动截止阀(直流式)</text>
</svg>
</body></html>
